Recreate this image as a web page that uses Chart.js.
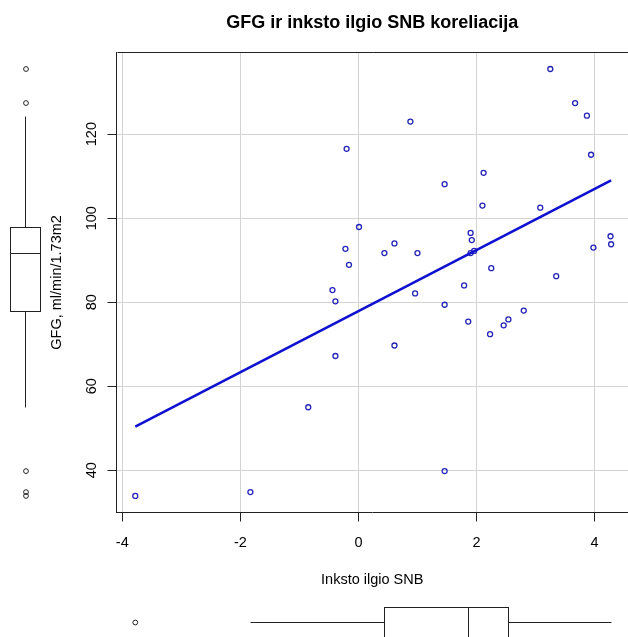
<!DOCTYPE html>
<html>
<head>
<meta charset="utf-8">
<script src="https://cdn.jsdelivr.net/npm/chart.js@4.4.1/dist/chart.umd.min.js"></script>
<style>
html,body{margin:0;padding:0;background:#fff;}
canvas{display:block;}
</style>
</head>
<body>
<canvas id="c" width="628" height="637"></canvas>
<script>
// ---- text ----
const chartTitle = 'GFG ir inksto ilgio SNB koreliacija';
const xAxisTitle = 'Inksto ilgio SNB';
const yAxisTitle = 'GFG, ml/min/1.73m2';

// ---- data ----
const snb = [-3.78, -1.83, -0.85, -0.39, -0.39, -0.44, -0.16, -0.22, 0.01, -0.20,
             0.88, 0.44, 0.61, 0.61, 1.00, 0.96, 1.46, 1.46, 1.46, 1.79,
             1.86, 1.90, 1.92, 1.90, 1.96, 2.10, 2.12, 2.25, 2.23, 2.46,
             2.54, 2.80, 3.08, 3.25, 3.35, 3.67, 3.87, 3.94, 3.98, 4.27, 4.28];
const gfg = [33.9, 34.8, 55.0, 67.2, 80.2, 82.9, 88.9, 92.7, 97.9, 116.5,
             123.0, 91.7, 94.0, 69.7, 91.7, 82.1, 108.1, 79.4, 39.8, 84.0,
             75.4, 96.5, 94.8, 91.7, 92.2, 103.0, 110.8, 88.1, 72.4, 74.5,
             75.9, 78.0, 102.5, 135.5, 86.2, 127.4, 124.4, 115.1, 93.0, 95.7, 93.8];

// regression line end points
const fitX = [-3.78, 4.28];
const fitY = [50.4, 109.0];

// marginal boxplots: [lower whisker, Q1, median, Q3, upper whisker]
const gfgBox = [55.0, 78.0, 91.7, 97.9, 124.4];
const gfgOutliers = [135.5, 127.4, 39.8, 34.8, 33.9];
const snbBox = [-1.83, 0.44, 1.86, 2.54, 4.28];
const snbOutliers = [-3.78];

// ticks
const xTicks = [-4, -2, 0, 2, 4];
const yTicks = [40, 60, 80, 100, 120];

// ---- styling ----
const FONT = "'Liberation Sans', Arial, Helvetica, sans-serif";
const AX = 14.5;

const points = snb.map((v, i) => ({x: v, y: gfg[i]}));
const fitLine = fitX.map((v, i) => ({x: v, y: fitY[i]}));

const margBoxPlugin = {
  id: 'margBox',
  afterDraw(chart) {
    const {ctx, chartArea, scales} = chart;
    const xs = scales.x, ys = scales.y;
    ctx.save();
    ctx.strokeStyle = '#222';
    ctx.lineWidth = 1;
    // top frame line of the plot box
    const ty = Math.round(chartArea.top) + 0.5;
    ctx.beginPath();
    ctx.moveTo(Math.round(chartArea.left) + 0.5, ty);
    ctx.lineTo(chartArea.right + 2, ty);
    ctx.stroke();

    const al = v => Math.round(v) + 0.5;
    const R = 2.4;

    // left (vertical) boxplot of gfg
    const L = 10.5, Rr = 40.5, cx = 25.5;
    const py = gfgBox.map(v => al(ys.getPixelForValue(v)));
    ctx.beginPath();
    ctx.moveTo(cx, py[0]); ctx.lineTo(cx, py[1]);
    ctx.moveTo(cx, py[3]); ctx.lineTo(cx, py[4]);
    ctx.stroke();
    ctx.strokeRect(L, py[3], Rr - L, py[1] - py[3]);
    ctx.beginPath();
    ctx.moveTo(L, py[2]); ctx.lineTo(Rr, py[2]);
    ctx.stroke();
    gfgOutliers.forEach(v => {
      ctx.beginPath();
      ctx.arc(cx + 0.5, ys.getPixelForValue(v), R, 0, Math.PI * 2);
      ctx.stroke();
    });

    // bottom (horizontal) boxplot of snb
    const T = 607.5, B = 637.5, cy = 622.5;
    const px = snbBox.map(v => al(xs.getPixelForValue(v)));
    ctx.beginPath();
    ctx.moveTo(px[0], cy); ctx.lineTo(px[1], cy);
    ctx.moveTo(px[3], cy); ctx.lineTo(px[4], cy);
    ctx.stroke();
    ctx.strokeRect(px[1], T, px[3] - px[1], B - T);
    ctx.beginPath();
    ctx.moveTo(px[2], T); ctx.lineTo(px[2], B);
    ctx.stroke();
    snbOutliers.forEach(v => {
      ctx.beginPath();
      ctx.arc(xs.getPixelForValue(v), cy, R, 0, Math.PI * 2);
      ctx.stroke();
    });
    ctx.restore();
  }
};

new Chart(document.getElementById('c'), {
  type: 'scatter',
  data: {
    datasets: [
      {
        type: 'line',
        data: fitLine,
        borderColor: '#1010d0',
        borderWidth: 2.6,
        pointRadius: 0,
        pointHoverRadius: 0,
        fill: false,
        tension: 0
      },
      {
        data: points,
        pointStyle: 'circle',
        pointRadius: 2.5,
        pointHoverRadius: 2.5,
        pointBorderWidth: 1.3,
        pointBorderColor: '#2424b8',
        pointBackgroundColor: 'rgba(0,0,0,0)'
      }
    ]
  },
  options: {
    responsive: false,
    devicePixelRatio: 1,
    animation: false,
    events: [],
    layout: {padding: 0, autoPadding: false},
    plugins: {
      legend: {display: false},
      tooltip: {enabled: false},
      title: {
        display: true,
        text: chartTitle,
        fullSize: false,
        color: '#000',
        font: {family: FONT, size: 18, weight: 'bold', lineHeight: 1.2},
        padding: {top: 12.6, bottom: 18.1}
      }
    },
    scales: {
      x: {
        type: 'linear',
        min: -4.098,
        max: 4.566,
        afterBuildTicks: s => { s.ticks = xTicks.map(v => ({value: v})); },
        afterFit: s => { s.height = 124.5; s.paddingLeft = 0; s.paddingRight = 0; },
        grid: {color: '#d3d3d3', lineWidth: 1, drawTicks: true, tickLength: 9, tickColor: '#222', tickWidth: 1},
        border: {display: true, color: '#222', width: 1},
        ticks: {
          autoSkip: false, minRotation: 0, maxRotation: 0, padding: 12.8,
          color: '#000', font: {family: FONT, size: AX},
          callback: v => String(v)
        },
        title: {
          display: true, text: xAxisTitle, color: '#000',
          font: {family: FONT, size: AX, lineHeight: 1.2},
          padding: {top: 0, bottom: 48.3}
        }
      },
      y: {
        type: 'linear',
        min: 29.95,
        max: 139.48,
        afterBuildTicks: s => { s.ticks = yTicks.map(v => ({value: v})); },
        afterFit: s => { s.width = 116.5; s.paddingTop = 0; s.paddingBottom = 0; },
        grid: {color: '#d3d3d3', lineWidth: 1, drawTicks: true, tickLength: 9, tickColor: '#222', tickWidth: 1},
        border: {display: true, color: '#222', width: 1},
        ticks: {
          autoSkip: false, minRotation: 90, maxRotation: 90, padding: 3.9,
          crossAlign: 'center',
          color: '#000', font: {family: FONT, size: AX},
          callback: v => String(v)
        },
        title: {
          display: true, text: yAxisTitle, color: '#000',
          font: {family: FONT, size: AX, lineHeight: 1.2},
          padding: {top: 47.8, bottom: 0}
        }
      }
    }
  },
  plugins: [margBoxPlugin]
});
</script>
</body>
</html>
